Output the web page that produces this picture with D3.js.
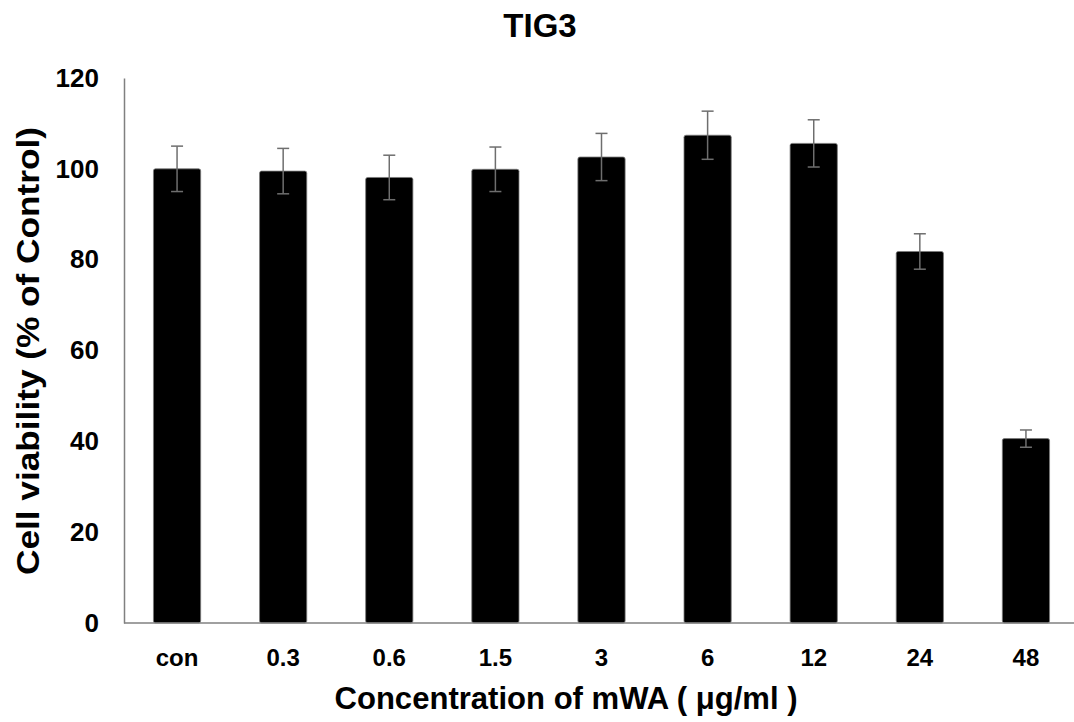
<!DOCTYPE html>
<html>
<head>
<meta charset="utf-8">
<script src="https://cdn.jsdelivr.net/npm/d3@7"></script>
<style>
body { margin: 0; background: #fff; }
svg { display: block; font-family: "Liberation Sans", Arial, sans-serif; font-weight: bold; }
</style>
</head>
<body>
<svg width="1074" height="722"></svg>
<script>
// data
var doses = ["con", "0.3", "0.6", "1.5", "3", "6", "12", "24", "48"];
var viability = [100, 99.5, 98.1, 99.9, 102.6, 107.4, 105.6, 81.8, 40.6];
var errs = [5, 5, 4.9, 4.9, 5.2, 5.3, 5.2, 3.9, 1.9];
var yTicks = [0, 20, 40, 60, 80, 100, 120];

var svg = d3.select('svg');

var x = d3.scaleBand().domain(doses).range([124, 1079]).paddingInner(0.555).paddingOuter(0.2775);
var y = d3.scaleLinear().domain([0, 120]).range([623, 78]);

var data = doses.map(function(d, i){ return {dose: d, v: viability[i], e: errs[i]}; });

// bars
svg.selectAll('.bar')
    .data(data)
    .enter()
    .append('rect')
    .attr('class', 'bar')
    .attr('x', function(d){ return x(d.dose); })
    .attr('y', function(d){ return y(d.v); })
    .attr('width', x.bandwidth())
    .attr('height', function(d){ return y(0) - y(d.v); })
    .attr('rx', 2)
    .attr('fill', '#000')
    .attr('stroke', '#7a7a7a')
    .attr('stroke-width', 0.8);

// error bars
var eb = svg.selectAll('.err').data(data).enter().append('g').attr('class', 'err')
    .attr('stroke', '#6e6e6e').attr('stroke-width', 1.5);
eb.append('line')
    .attr('x1', function(d){ return x(d.dose) + x.bandwidth()/2; })
    .attr('x2', function(d){ return x(d.dose) + x.bandwidth()/2; })
    .attr('y1', function(d){ return y(d.v + d.e); })
    .attr('y2', function(d){ return y(d.v - d.e); });
[1, -1].forEach(function(s){
    eb.append('line')
        .attr('x1', function(d){ return x(d.dose) + x.bandwidth()/2 - 6; })
        .attr('x2', function(d){ return x(d.dose) + x.bandwidth()/2 + 6; })
        .attr('y1', function(d){ return y(d.v + s*d.e); })
        .attr('y2', function(d){ return y(d.v + s*d.e); });
});

// axes
var yAxis = svg.append('g')
    .attr('transform', 'translate(124,0)')
    .call(d3.axisLeft(y).tickValues(yTicks).tickSize(0).tickPadding(25));
yAxis.select('.domain').attr('stroke', '#808080').attr('stroke-width', 1.5);
yAxis.selectAll('text').style('font-size', '26px').attr('fill', '#000');

var xAxis = svg.append('g')
    .attr('transform', 'translate(0,623)')
    .call(d3.axisBottom(x).tickSize(0).tickPadding(26));
xAxis.select('.domain').attr('d', 'M124,0H1074').attr('stroke', '#808080').attr('stroke-width', 1.5);
xAxis.selectAll('text').style('font-size', '24px').attr('fill', '#000');

// titles
svg.append('text')
    .text('TIG3')
    .attr('x', 540).attr('y', 37)
    .style('text-anchor', 'middle')
    .style('font-size', '33px');

svg.append('text')
    .text('Concentration of mWA ( \u03bcg/ml )')
    .attr('x', 566).attr('y', 709)
    .attr('textLength', 463)
    .attr('lengthAdjust', 'spacingAndGlyphs')
    .style('text-anchor', 'middle')
    .style('font-size', '32px');

svg.append('text')
    .text('Cell viability (% of Control)')
    .attr('transform', 'translate(39,351)rotate(-90)')
    .attr('textLength', 448)
    .attr('lengthAdjust', 'spacingAndGlyphs')
    .style('text-anchor', 'middle')
    .style('font-size', '32px');
</script>
</body>
</html>
